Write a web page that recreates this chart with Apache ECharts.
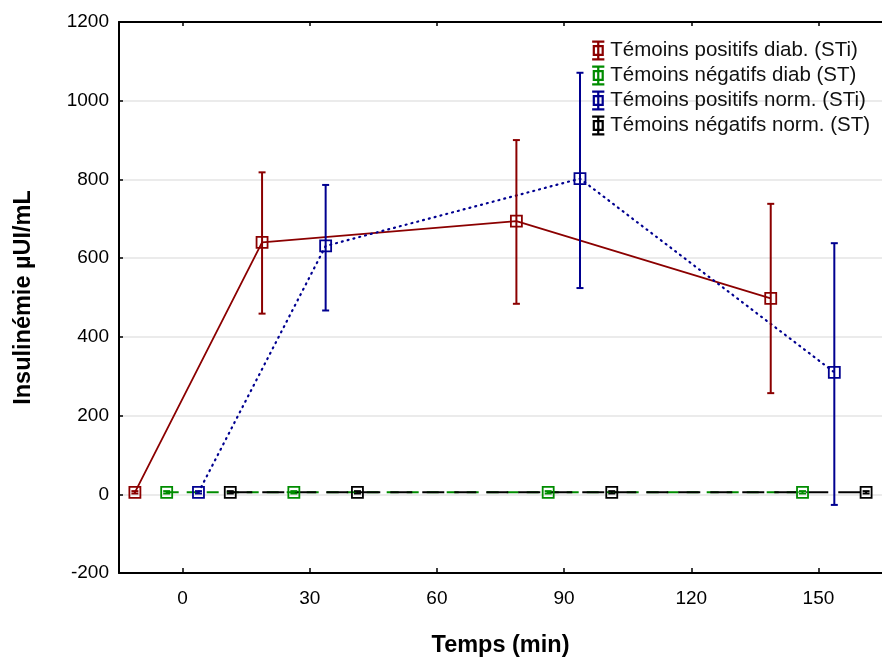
<!DOCTYPE html>
<html>
<head>
<meta charset="utf-8">
<script src="https://cdn.jsdelivr.net/npm/echarts@6/dist/echarts.min.js"></script>
<style>
  html, body { margin: 0; padding: 0; background: #fff; }
  #chart { width: 882px; height: 659px; }
</style>
</head>
<body>
<div id="chart"></div>
<script>
// valeurs (temps décalés par série)
const seriesNames = [
  'Témoins positifs diab. (STi)',
  'Témoins négatifs diab (ST)',
  'Témoins positifs norm. (STi)',
  'Témoins négatifs norm. (ST)'
]
const colors = ['#8b0000', '#008c00', '#000090', '#000000']

const posDiabX = [-11.25, 18.75, 78.75, 138.75]
const posDiabY = [5, 640, 694, 498]
const posDiabLow = [2, 459, 484, 257]
const posDiabHigh = [8, 818, 900, 738]

const negDiabX = [-3.75, 26.25, 86.25, 146.25]
const negDiabY = [5, 5, 5, 5]
const negDiabLow = [2, 2, 2, 2]
const negDiabHigh = [8, 8, 8, 8]

const posNormX = [3.75, 33.75, 93.75, 153.75]
const posNormY = [5, 631, 802, 310]
const posNormLow = [2, 467, 524, -27]
const posNormHigh = [8, 786, 1071, 638]

const negNormX = [11.25, 41.25, 101.25, 161.25]
const negNormY = [5, 5, 5, 5]
const negNormLow = [2, 2, 2, 2]
const negNormHigh = [8, 8, 8, 8]

const xTicks = [0, 30, 60, 90, 120, 150]
const yTicks = [-200, 0, 200, 400, 600, 800, 1000, 1200]

const groups = [
  [posDiabX, posDiabY, posDiabLow, posDiabHigh],
  [negDiabX, negDiabY, negDiabLow, negDiabHigh],
  [posNormX, posNormY, posNormLow, posNormHigh],
  [negNormX, negNormY, negNormLow, negNormHigh]
]
const lineTypes = ['solid', [12, 8], [1, 5], [22, 10]]
const lineCaps = ['butt', 'butt', 'round', 'butt']
const lineWidths = [1.8, 2, 2.2, 2]

// icône légende : barre d'erreur + carré vide
const legendIcon = 'path://M0.5 0H11.5V2H0.5Z M0.5 16H11.5V18H0.5Z M5 0H7V18H5Z M1 4H11V14H1Z M3 6V12H9V6Z'

const chart = echarts.init(document.getElementById('chart'))

const series = []
groups.forEach((g, i) => {
  const [xs, ys] = g
  series.push({
    name: seriesNames[i],
    type: 'line',
    data: xs.map((x, k) => [x, ys[k]]),
    symbol: 'none',
    lineStyle: { color: colors[i], width: lineWidths[i], type: lineTypes[i], cap: lineCaps[i] },
    itemStyle: { color: colors[i] },
    z: 2 + i
  })
})
groups.forEach((g, i) => {
  const [xs, ys, lo, hi] = g
  series.push({
    name: seriesNames[i],
    type: 'custom',
    data: xs.map((x, k) => [x, ys[k], lo[k], hi[k]]),
    encode: { x: 0, y: [1, 2, 3] },
    itemStyle: { color: colors[i] },
    z: 10 + i,
    renderItem: function (params, api) {
      const c = api.coord([api.value(0), api.value(1)])
      const pl = api.coord([api.value(0), api.value(2)])
      const ph = api.coord([api.value(0), api.value(3)])
      const hw = 3.5
      const st = { stroke: colors[i], lineWidth: 2, fill: null }
      return {
        type: 'group',
        children: [
          { type: 'line', shape: { x1: c[0], y1: ph[1], x2: c[0], y2: pl[1] }, style: st },
          { type: 'line', shape: { x1: c[0] - hw, y1: ph[1], x2: c[0] + hw, y2: ph[1] }, style: st },
          { type: 'line', shape: { x1: c[0] - hw, y1: pl[1], x2: c[0] + hw, y2: pl[1] }, style: st },
          { type: 'rect', shape: { x: c[0] - 5.5, y: c[1] - 5.5, width: 11, height: 11 },
            style: { stroke: colors[i], lineWidth: 1.8, fill: 'rgba(255,255,255,0)' } }
        ]
      }
    }
  })
})

const option = {
  animation: false,
  backgroundColor: '#fff',
  textStyle: { fontFamily: 'Liberation Sans, Arial, sans-serif' },
  grid: { left: 119, right: 0, top: 22, bottom: 86, outerBoundsMode: 'none', containLabel: false },
  legend: {
    orient: 'vertical',
    right: 7,
    top: 35,
    itemWidth: 14,
    itemHeight: 20,
    itemGap: 4,
    textStyle: { fontSize: 20.5, color: '#111', fontFamily: 'Liberation Sans, Arial, sans-serif' },
    data: seriesNames.map((n, i) => ({ name: n, icon: legendIcon, itemStyle: { color: colors[i], borderWidth: 0 } }))
  },
  xAxis: [{
    type: 'value',
    min: -15,
    max: 165,
    interval: 30,
    name: 'Temps (min)',
    nameLocation: 'middle',
    nameGap: 61,
    nameTextStyle: { fontSize: 23.5, fontWeight: 'bold', color: '#000' },
    axisLine: { onZero: false, lineStyle: { color: '#000', width: 2 } },
    axisTick: { inside: true, length: 5, lineStyle: { color: '#000', width: 1.5 }, customValues: xTicks },
    axisLabel: { fontSize: 19, color: '#000', margin: 16, customValues: xTicks },
    splitLine: { show: false }
  }, {
    type: 'value',
    position: 'top',
    min: -15,
    max: 165,
    interval: 30,
    axisLine: { show: true, onZero: false, lineStyle: { color: '#000', width: 2 } },
    axisTick: { inside: true, length: 4, lineStyle: { color: '#000', width: 1.5 }, customValues: xTicks },
    axisLabel: { show: false },
    splitLine: { show: false }
  }],
  yAxis: {
    type: 'value',
    min: -200,
    max: 1200,
    interval: 200,
    name: 'Insulinémie µUI/mL',
    nameLocation: 'middle',
    nameGap: 83,
    nameTextStyle: { fontSize: 23.5, fontWeight: 'bold', color: '#000' },
    axisLine: { show: true, onZero: false, lineStyle: { color: '#000', width: 2 } },
    axisTick: { show: true, inside: true, length: 4, lineStyle: { color: '#000', width: 1.5 } },
    axisLabel: { fontSize: 19, color: '#000', margin: 10, customValues: yTicks, formatter: v => String(v) },
    splitLine: { show: true, lineStyle: { color: '#e4e4e4', width: 1.5 } }
  },
  series: series
}

chart.setOption(option)
window.addEventListener('resize', () => {
  chart.resize()
})
</script>
</body>
</html>
